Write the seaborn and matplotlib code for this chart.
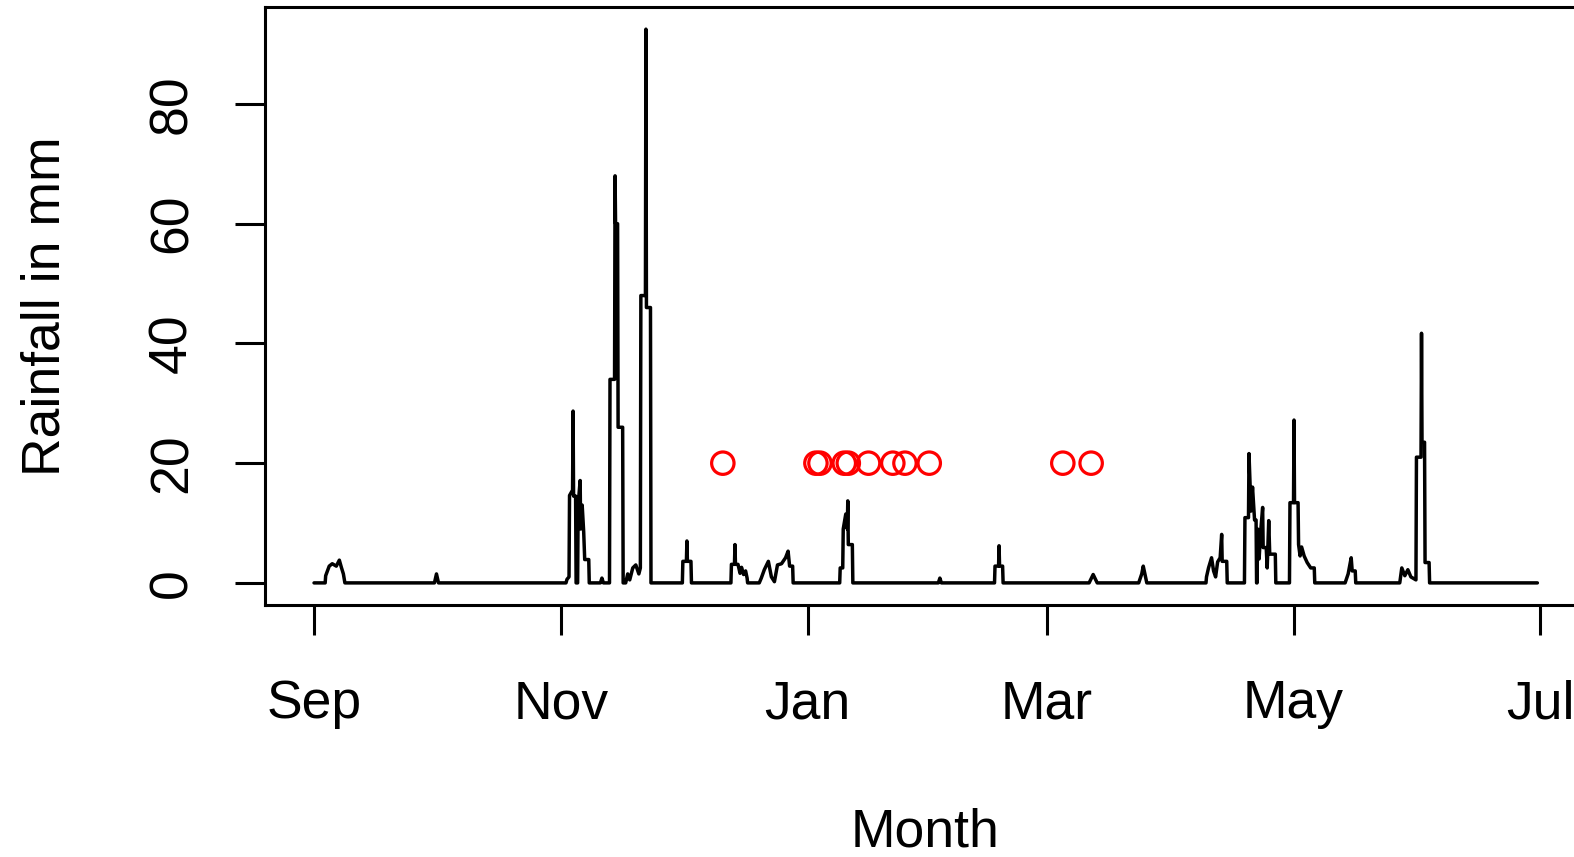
"""
Lluvia diaria (mm) de septiembre a junio, con días marcados en rojo.
"""

import matplotlib
matplotlib.use("Agg")
import matplotlib.pyplot as plt
import pandas as pd
import seaborn as sns

# lecturas de lluvia (tiempo, mm); los ceros marcan inicio/fin de cada evento
rain_time = [
    "2016-09-01 00:00",
    # sep
    "2016-09-03 18:00", "2016-09-03 21:00", "2016-09-04 18:00", "2016-09-05 12:00",
    "2016-09-06 12:00", "2016-09-07 06:00", "2016-09-07 18:00", "2016-09-08 06:00",
    "2016-09-08 15:00",
    # oct
    "2016-09-30 18:00", "2016-10-01 06:00", "2016-10-01 18:00",
    # nov
    "2016-11-02 06:00", "2016-11-02 12:00", "2016-11-03 00:00", "2016-11-03 03:00",
    "2016-11-03 21:00", "2016-11-04 00:00", "2016-11-04 03:00", "2016-11-04 15:00",
    "2016-11-04 18:00", "2016-11-05 03:00", "2016-11-05 06:00", "2016-11-05 18:00",
    "2016-11-05 21:00", "2016-11-06 06:00", "2016-11-06 15:00", "2016-11-06 21:00",
    "2016-11-07 21:00", "2016-11-08 00:00", "2016-11-10 18:00", "2016-11-11 03:00",
    "2016-11-11 12:00",
    "2016-11-13 00:00", "2016-11-13 03:00", "2016-11-14 06:00", "2016-11-14 09:00",
    "2016-11-14 12:00", "2016-11-15 00:00", "2016-11-15 03:00", "2016-11-16 06:00",
    "2016-11-16 09:00", "2016-11-17 00:00", "2016-11-17 12:00", "2016-11-18 00:00",
    "2016-11-18 18:00", "2016-11-19 12:00", "2016-11-20 06:00", "2016-11-20 15:00",
    "2016-11-20 18:00", "2016-11-21 21:00", "2016-11-22 00:00", "2016-11-22 03:00",
    "2016-11-23 03:00", "2016-11-23 06:00",
    # dic
    "2016-12-01 00:00", "2016-12-01 03:00", "2016-12-02 00:00", "2016-12-02 03:00",
    "2016-12-02 06:00", "2016-12-03 03:00", "2016-12-03 06:00",
    "2016-12-13 00:00", "2016-12-13 03:00", "2016-12-13 21:00", "2016-12-14 00:00",
    "2016-12-14 03:00", "2016-12-14 18:00", "2016-12-15 06:00", "2016-12-15 15:00",
    "2016-12-16 03:00", "2016-12-16 15:00", "2016-12-17 00:00", "2016-12-17 03:00",
    "2016-12-20 00:00", "2016-12-20 12:00", "2016-12-21 06:00", "2016-12-22 06:00",
    "2016-12-23 00:00", "2016-12-23 18:00", "2016-12-24 12:00", "2016-12-25 12:00",
    "2016-12-26 12:00", "2016-12-27 03:00", "2016-12-27 12:00", "2016-12-28 06:00",
    "2016-12-28 09:00",
    # ene / feb
    "2017-01-08 21:00", "2017-01-09 00:00", "2017-01-09 15:00", "2017-01-09 18:00",
    "2017-01-10 09:00", "2017-01-10 18:00", "2017-01-10 21:00", "2017-01-11 00:00",
    "2017-01-12 00:00", "2017-01-12 03:00",
    "2017-02-02 06:00", "2017-02-02 15:00", "2017-02-03 00:00",
    "2017-02-16 03:00", "2017-02-16 06:00", "2017-02-17 03:00", "2017-02-17 06:00",
    "2017-02-17 09:00", "2017-02-18 03:00", "2017-02-18 06:00",
    # mar
    "2017-03-11 12:00", "2017-03-12 12:00", "2017-03-13 12:00",
    "2017-03-23 18:00", "2017-03-24 12:00", "2017-03-24 21:00", "2017-03-25 18:00",
    # abr
    "2017-04-09 09:00", "2017-04-09 12:00", "2017-04-10 00:00", "2017-04-10 18:00",
    "2017-04-11 06:00", "2017-04-11 18:00", "2017-04-12 06:00", "2017-04-12 21:00",
    "2017-04-13 06:00", "2017-04-13 09:00", "2017-04-14 12:00", "2017-04-14 15:00",
    "2017-04-18 21:00", "2017-04-19 00:00", "2017-04-19 21:00", "2017-04-20 00:00",
    "2017-04-20 03:00", "2017-04-20 12:00", "2017-04-20 21:00", "2017-04-21 09:00",
    "2017-04-21 18:00", "2017-04-21 21:00", "2017-04-22 00:00", "2017-04-22 03:00",
    "2017-04-22 12:00", "2017-04-22 21:00", "2017-04-23 09:00", "2017-04-23 12:00",
    "2017-04-24 06:00", "2017-04-24 12:00", "2017-04-24 21:00", "2017-04-25 03:00",
    "2017-04-26 12:00", "2017-04-26 15:00",
    # may
    "2017-04-30 00:00", "2017-04-30 03:00", "2017-05-01 00:00", "2017-05-01 03:00",
    "2017-05-01 06:00", "2017-05-02 03:00", "2017-05-02 06:00", "2017-05-02 15:00",
    "2017-05-03 00:00", "2017-05-03 15:00", "2017-05-04 09:00", "2017-05-05 06:00",
    "2017-05-06 03:00", "2017-05-06 06:00",
    "2017-05-13 18:00", "2017-05-14 12:00", "2017-05-15 06:00", "2017-05-15 12:00",
    "2017-05-16 06:00", "2017-05-16 09:00",
    "2017-05-27 06:00", "2017-05-27 18:00", "2017-05-28 12:00", "2017-05-29 06:00",
    "2017-05-30 00:00", "2017-05-31 06:00",
    # jun
    "2017-05-31 09:00", "2017-06-01 12:00", "2017-06-01 15:00", "2017-06-01 18:00",
    "2017-06-02 09:00", "2017-06-02 12:00", "2017-06-03 12:00", "2017-06-03 15:00",
    "2017-06-30 06:00",
]
rain_mm = [
    0,
    # sep
    0, 1.2, 2.8, 3.2,
    2.8, 3.8, 2.6, 1.5,
    0,
    # oct
    0, 1.5, 0,
    # nov
    0, 0.6, 1.0, 14.6,
    15.5, 28.7, 14.5, 14.5,
    0, 0, 13.0, 17.1,
    9.0, 13.0, 8.5, 3.9,
    3.9, 0, 0, 0.8,
    0,
    0, 34, 34, 68,
    60, 60, 26, 26,
    0, 0, 1.5, 0.5,
    2.5, 3.0, 1.5, 2.5,
    48, 48, 92.5, 46,
    46, 0,
    # dic
    0, 3.6, 3.6, 7.0,
    3.6, 3.6, 0,
    0, 3.1, 3.1, 6.4,
    3.1, 3.1, 1.6, 2.6,
    1.4, 2.0, 0.8, 0,
    0, 0.8, 2.2, 3.6,
    1.0, 0.2, 3.0, 3.2,
    4.2, 5.3, 2.8, 2.8,
    0,
    # ene / feb
    0, 2.5, 2.5, 9.0,
    11.5, 9.0, 13.7, 6.4,
    6.4, 0,
    0, 0.8, 0,
    0, 2.8, 2.8, 6.2,
    2.8, 2.8, 0,
    # mar
    0, 1.4, 0,
    0, 1.5, 2.8, 0,
    # abr
    0, 1.0, 2.5, 4.2,
    2.0, 1.0, 3.5, 4.2,
    8.1, 3.6, 3.6, 0,
    0, 10.9, 10.9, 21.6,
    19.3, 12.0, 16.0, 10.5,
    10.5, 0, 0, 9.0,
    4.0, 8.5, 12.6, 5.9,
    5.9, 2.5, 10.4, 4.8,
    4.8, 0,
    # may
    0, 13.4, 13.4, 27.2,
    13.4, 13.4, 6.4, 4.5,
    6.0, 4.5, 3.4, 2.5,
    2.5, 0,
    0, 1.5, 4.2, 2.0,
    2.0, 0,
    0, 2.5, 1.2, 2.2,
    1.0, 0.5,
    # jun
    21.0, 21.0, 41.7, 23.5,
    23.5, 3.4, 3.4, 0,
    0,
]

# días marcados (círculos rojos a 20 mm)
flag_dates = [
    "2016-12-11", "2017-01-03", "2017-01-04", "2017-01-10", "2017-01-11",
    "2017-01-16", "2017-01-22", "2017-01-25", "2017-01-31",
    "2017-03-05", "2017-03-12",
]
flag_level = 20

month_ticks = ["2016-09-01", "2016-11-01", "2017-01-01", "2017-03-01", "2017-05-01", "2017-07-01"]
month_labels = ["Sep", "Nov", "Jan", "Mar", "May", "Jul"]
y_ticks = [0, 20, 40, 60, 80]


def main():
    sns.set_style("ticks")
    plt.rcParams["font.family"] = ["Liberation Sans", "DejaVu Sans"]
    plt.rcParams["axes.linewidth"] = 2.2

    df = pd.DataFrame({"time": pd.to_datetime(rain_time), "mm": rain_mm})
    flags = pd.DataFrame({"time": pd.to_datetime(flag_dates),
                          "mm": [flag_level] * len(flag_dates)})

    fig = plt.figure(figsize=(15.74, 8.57), dpi=100)
    ax = fig.add_axes([0.1684, 0.2940, 0.8388, 0.6978])

    sns.lineplot(data=df, x="time", y="mm", ax=ax, color="black",
                 linewidth=2.5, estimator=None, sort=False)
    sns.scatterplot(data=flags, x="time", y="mm", ax=ax, marker="o", s=260,
                    facecolors="none", edgecolor="red", linewidth=2.3, zorder=3)
    for coll in ax.collections:
        coll.set_facecolor("none")

    ax.set_xlim(pd.Timestamp("2016-09-01") - pd.Timedelta(days=12.1),
                pd.Timestamp("2017-06-30") + pd.Timedelta(days=12.1))
    ax.set_ylim(-3.7, 96.2)

    ax.set_xticks(pd.to_datetime(month_ticks))
    ax.set_xticklabels(month_labels)
    ax.set_yticks(y_ticks)
    ax.set_yticklabels([str(v) for v in y_ticks])
    ax.tick_params(axis="both", length=21.6, width=2.2, direction="out",
                   labelsize=38.5, colors="black")
    ax.tick_params(axis="x", pad=32)
    ax.tick_params(axis="y", pad=27, labelrotation=90)
    for lab in ax.get_yticklabels():
        lab.set_va("center")

    for spine in ax.spines.values():
        spine.set_visible(True)
        spine.set_color("black")
        spine.set_linewidth(2.2)

    ax.set_xlabel("Month", fontsize=38.5, color="black")
    ax.set_ylabel("Rainfall in mm", fontsize=38.5, color="black")
    ax.xaxis.set_label_coords(0.5, -0.339)
    ax.yaxis.set_label_coords(-0.147, 0.5)

    fig.savefig("out.png", dpi=100)


if __name__ == "__main__":
    main()
